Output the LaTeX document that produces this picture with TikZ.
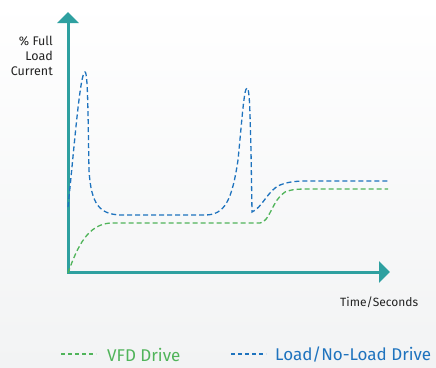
\documentclass[tikz,border=0pt]{standalone}
\usepackage{fontspec}
\setmainfont{Fira Sans}
\usetikzlibrary{arrows.meta}
\definecolor{axisteal}{RGB}{46,160,160}
\definecolor{vfdgreen}{RGB}{80,180,90}
\definecolor{loadblue}{RGB}{30,115,190}
\definecolor{labelgray}{RGB}{35,35,35}
\tikzset{
  axisline/.style={draw=axisteal, line width=3pt, -{Triangle[width=21pt,length=11pt]}},
  curve/.style={line width=1.3pt, dash pattern=on 5pt off 3pt},
  vfd/.style={curve, draw=vfdgreen},
  loadnl/.style={curve, draw=loadblue},
  legdash/.style={line width=1.2pt, dash pattern=on 4pt off 3pt},
  axislabel/.style={text=labelgray, inner sep=0pt},
  legendtext/.style={font=\fontsize{17}{20}\selectfont, inner sep=0pt, anchor=west},
}
\begin{document}
\begin{tikzpicture}[x=1pt, y=-1pt]
  % page background with a faint vertical fade
  \shade[top color=white, bottom color={rgb,255:red,242;green,243;blue,244}]
    (0,0) rectangle (436,367);
  \useasboundingbox (0,0) rectangle (436,367);

  % axes
  \coordinate (O) at (68,273);
  \coordinate (ytip) at (68,12);
  \coordinate (xorig) at (67,272);
  \coordinate (xtip) at (390,272);
  \draw[axisline] (O) -- (ytip);
  \draw[axisline] (xorig) -- (xtip);

  % axis titles
  \node[axislabel, font=\fontsize{12.5}{15}\selectfont, align=right, anchor=north east]
    (ylab) at (53,36) {\% Full\\Load\\Current};
  \node[axislabel, font=\fontsize{12}{15}\selectfont, anchor=base west]
    (xlab) at (340,306) {Time/Seconds};

  % load/no-load drive current
  \draw[loadnl] (68,207) .. controls (74,150) and (80,72) .. (85,72)
    .. controls (88,72) and (88,120) .. (89,170)
    .. controls (91,205) and (100,214) .. (120,215)
    -- (205,215)
    .. controls (225,215) and (232,200) .. (238,160)
    .. controls (242,120) and (244,88) .. (247,88)
    .. controls (250,88) and (250,120) .. (251,150)
    -- (252,212)
    .. controls (262,208) and (268,190) .. (280,185)
    .. controls (290,181) and (300,181) .. (310,181)
    -- (388,181);

  % VFD drive current
  \draw[vfd] (68,273) .. controls (78,245) and (88,225) .. (110,223)
    -- (260,223)
    .. controls (270,222) and (272,200) .. (285,192)
    .. controls (292,189) and (300,189) .. (310,189)
    -- (388,189);

  % legend
  \coordinate (g1) at (61,354);
  \coordinate (g2) at (96,354);
  \coordinate (b1) at (231,354);
  \coordinate (b2) at (266,354);
  \draw[legdash, draw=vfdgreen] (g1) -- (g2);
  \draw[legdash, draw=loadblue] (b1) -- (b2);
  \node[legendtext, text=vfdgreen] (vfdlab) at (107,355) {VFD Drive};
  \node[legendtext, text=loadblue] (loadlab) at (275,355) {Load/No-Load Drive};
\end{tikzpicture}
\end{document}
